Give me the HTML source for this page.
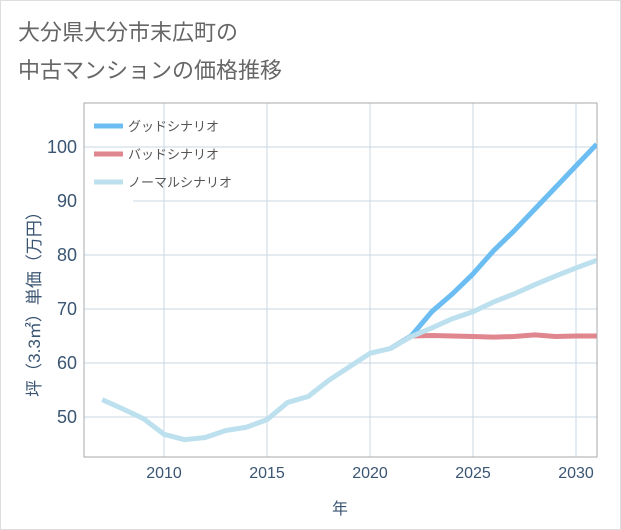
<!DOCTYPE html>
<html><head><meta charset="utf-8"><style>
body{margin:0;background:#fff;}
.wrap{width:619px;height:528px;border:1px solid #ddd;position:relative;font-family:"Liberation Sans","Noto Sans CJK JP",sans-serif;}
</style></head><body>
<div class="wrap">
<svg id="c" width="621" height="530" style="position:absolute;left:-1px;top:-1px">
<text x="18" y="40" font-size="22" fill="#666" font-family="Liberation Sans, Noto Sans CJK JP, sans-serif">大分県大分市末広町の</text>
<text x="18" y="78" font-size="22" fill="#666" font-family="Liberation Sans, Noto Sans CJK JP, sans-serif">中古マンションの価格推移</text>
<text transform="translate(40,300) rotate(-90)" text-anchor="middle" font-size="17" fill="#3a5572" font-family="Liberation Sans, Noto Sans CJK JP, sans-serif">坪（3.3㎡）単価（万円）</text>
<text x="340" y="514" text-anchor="middle" font-size="16" fill="#3a5572" font-family="Liberation Sans, Noto Sans CJK JP, sans-serif">年</text>
</svg>
</div>
<script>
const years=[2007,2008,2009,2010,2011,2012,2013,2014,2015,2016,2017,2018,2019,2020,2021,2022,2023,2024,2025,2026,2027,2028,2029,2030,2031];
const normal=[53.2,51.5,49.7,46.8,45.8,46.2,47.5,48.1,49.5,52.7,53.8,56.8,59.3,61.8,62.7,64.9,66.5,68.2,69.5,71.3,72.8,74.5,76.1,77.6,79.0];
const goodYears=[2021,2022,2023,2024,2025,2026,2027,2028,2029,2030,2031];
const good=[62.7,65.0,69.5,72.8,76.5,80.8,84.5,88.5,92.5,96.5,100.5];
const badYears=[2021,2022,2023,2024,2025,2026,2027,2028,2029,2030,2031];
const bad=[62.7,65.0,65.1,65.0,64.9,64.8,64.9,65.2,64.9,65.0,65.0];
const yTicks=[50,60,70,80,90,100];
const xTicks=[2010,2015,2020,2025,2030];
const legendLabels=["グッドシナリオ","バッドシナリオ","ノーマルシナリオ"];
const NS="http://www.w3.org/2000/svg",svg=document.getElementById('c');
const L=84,R=597,T=103,B=457;
const X=y=>164+(y-2010)*20.6, Y=v=>417-(v-50)*5.4;
function mk(t,a,p){const e=document.createElementNS(NS,t);for(const k in a)e.setAttribute(k,a[k]);(p||svg).appendChild(e);return e;}
xTicks.forEach(t=>{const l=mk('line',{x1:X(t),x2:X(t),y1:T,y2:B,stroke:'#c8d8e6','stroke-width':1});

const tx=mk('text',{x:X(t),y:478,'text-anchor':'middle','font-size':16,fill:'#3a5572'});tx.textContent=t;
});
const lb=mk('rect',{x:L+1,y:T+1,width:49,height:98,fill:'#fff'});

yTicks.forEach(t=>{const x1=(t===90)?133:L;const l=mk('line',{x1:x1,x2:R,y1:Y(t),y2:Y(t),stroke:'#c8d8e6','stroke-width':1});

const tx=mk('text',{x:77,y:Y(t)+6,'text-anchor':'end','font-size':18,fill:'#3a5572'});tx.textContent=t;
});
const fr=mk('rect',{x:L,y:T,width:R-L,height:B-T,fill:'none',stroke:'#aaa','stroke-width':1});

function line(xs,vs,c,name){const d=xs.map((y,i)=>(i?'L':'M')+X(y)+' '+Y(vs[i])).join(' ');
const p=mk('path',{d:d,fill:'none',stroke:c,'stroke-width':5,'stroke-linejoin':'round'});
}
const cp=mk('clipPath',{id:'cl'});mk('rect',{x:L,y:T,width:R-L,height:B-T},cp);
line(badYears,bad,'#e0868e','bad-scenario-line');
line(goodYears,good,'#6bbdf2','good-scenario-line');
line(years,normal,'#bde0ee','normal-scenario-line');
svg.querySelectorAll('path').forEach(p=>p.setAttribute('clip-path','url(#cl)'));
const cols=['#6bbdf2','#e0868e','#bde0ee'];
legendLabels.forEach((s,i)=>{const y=126+i*28;
const l=mk('line',{x1:94,x2:123,y1:y,y2:y,stroke:cols[i],'stroke-width':5});

const t=mk('text',{x:128,y:y+5,'font-size':13,fill:'#555'});t.textContent=s;
});
</script>
</body></html>
